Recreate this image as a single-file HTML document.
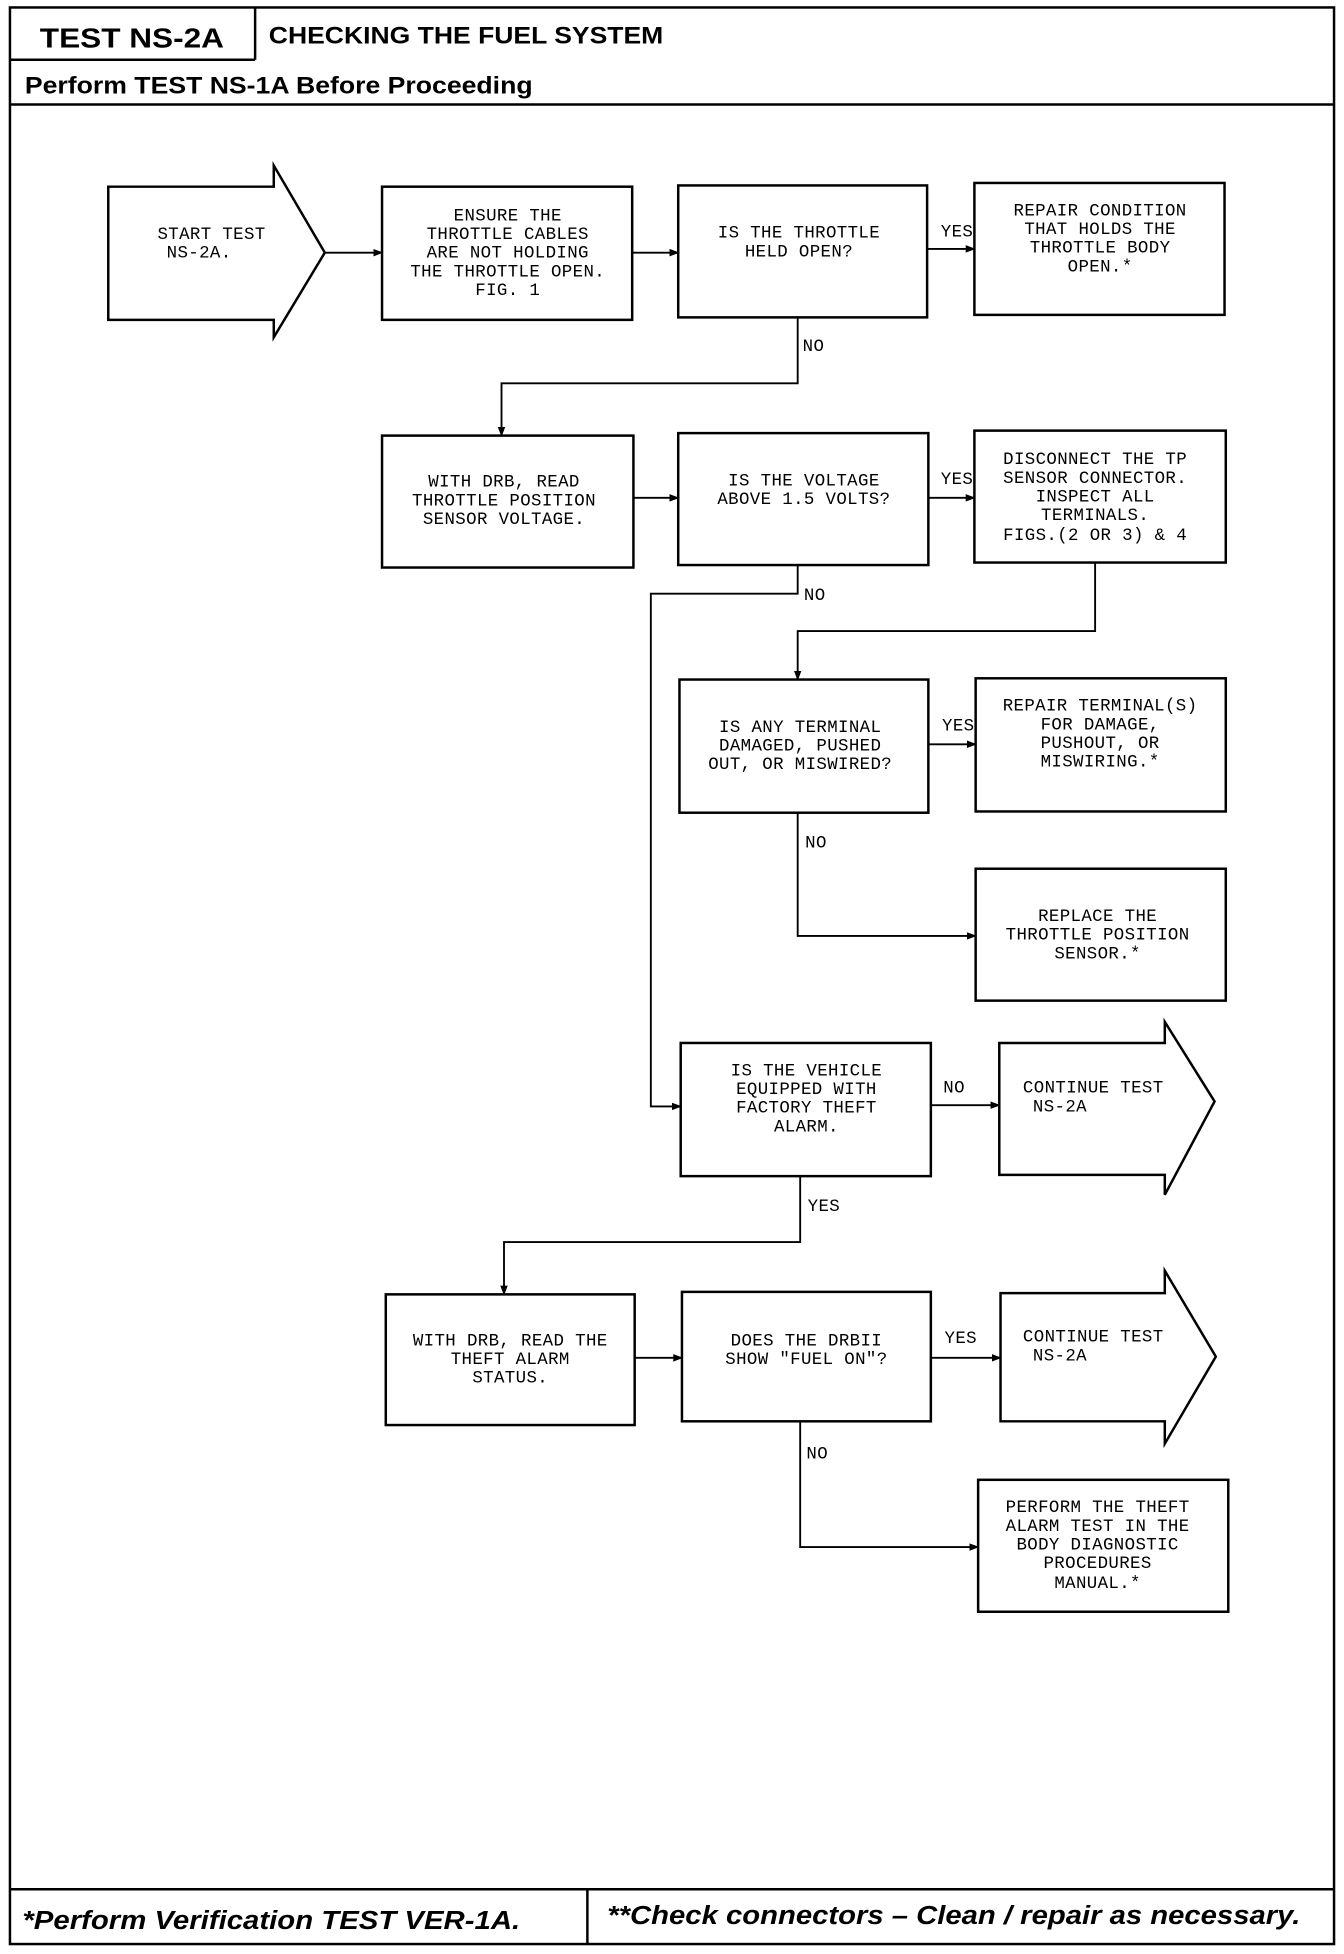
<!DOCTYPE html>
<html><head><meta charset="utf-8"><style>
html,body{margin:0;padding:0;background:#fff;}
svg{display:block;}
.t{font-family:"Liberation Mono",monospace;font-size:14px;fill:#000;text-anchor:middle;letter-spacing:0.3px;}
.l{font-family:"Liberation Mono",monospace;font-size:14px;fill:#000;letter-spacing:0.3px;}
.h{font-family:"Liberation Sans",sans-serif;font-weight:bold;fill:#000;}
</style></head><body>
<svg width="1344" height="1954" viewBox="0 0 1080 1570" preserveAspectRatio="none" xmlns="http://www.w3.org/2000/svg">
<defs><marker id="a" markerWidth="8" markerHeight="8" refX="7" refY="4" orient="auto" markerUnits="userSpaceOnUse"><path d="M0,1 L8,4 L0,7 Z" fill="#000"/></marker></defs>
<g fill="none" stroke="#000" stroke-width="2">
<rect x="8" y="6" width="1064" height="1556"/>
<line x1="8" y1="48" x2="205" y2="48"/>
<line x1="205" y1="6" x2="205" y2="48"/>
<line x1="8" y1="84" x2="1072" y2="84"/>
<line x1="8" y1="1518" x2="1072" y2="1518"/>
<line x1="472" y1="1518" x2="472" y2="1562"/>
<path d="M87,150 H220 V133 L261,203 L220,271 V257 H87 Z"/>
<rect x="307" y="150" width="201" height="107"/>
<rect x="545" y="149" width="200" height="106"/>
<rect x="783" y="147" width="201" height="106"/>
<rect x="307" y="350" width="202" height="106"/>
<rect x="545" y="348" width="201" height="106"/>
<rect x="783" y="346" width="202" height="106"/>
<rect x="546" y="546" width="200" height="107"/>
<rect x="784" y="545" width="201" height="107"/>
<rect x="784" y="698" width="201" height="106"/>
<rect x="547" y="838" width="201" height="107"/>
<path d="M803,838 H936 V821 L976,885 L936,960 V944 H803 Z"/>
<rect x="310" y="1040" width="200" height="105"/>
<rect x="548" y="1038" width="200" height="104"/>
<path d="M804,1039 H936 V1021 L977,1090 L936,1160 V1142 H804 Z"/>
<rect x="786" y="1189" width="201" height="106"/>
</g>
<g fill="none" stroke="#000" stroke-width="1.5" marker-end="url(#a)">
<line x1="261" y1="203" x2="307" y2="203"/>
<line x1="508" y1="203" x2="545" y2="203"/>
<line x1="745" y1="200" x2="783" y2="200"/>
<polyline points="641,255 641,308 403,308 403,350"/>
<line x1="509" y1="400" x2="545" y2="400"/>
<line x1="746" y1="400" x2="783" y2="400"/>
<polyline points="641,454 641,477 523,477 523,889 547,889"/>
<polyline points="880,452 880,507 641,507 641,546"/>
<line x1="746" y1="598" x2="784" y2="598"/>
<polyline points="641,653 641,752 784,752"/>
<line x1="748" y1="888" x2="803" y2="888"/>
<polyline points="643,945 643,998 405,998 405,1040"/>
<line x1="510" y1="1091" x2="548" y2="1091"/>
<line x1="748" y1="1091" x2="804" y2="1091"/>
<polyline points="643,1142 643,1243 786,1243"/>
</g>
<text class="h" x="32" y="38" font-size="22" textLength="148" lengthAdjust="spacingAndGlyphs">TEST NS-2A</text>
<text class="h" x="216" y="35" font-size="19" textLength="317" lengthAdjust="spacingAndGlyphs">CHECKING THE FUEL SYSTEM</text>
<text class="h" x="20" y="75" font-size="19" textLength="408" lengthAdjust="spacingAndGlyphs">Perform TEST NS-1A Before Proceeding</text>
<text class="h" x="18" y="1550" font-size="21" font-style="italic" textLength="400" lengthAdjust="spacingAndGlyphs">*Perform Verification TEST VER-1A.</text>
<text class="h" x="488" y="1546" font-size="21" font-style="italic" textLength="557" lengthAdjust="spacingAndGlyphs">**Check connectors – Clean / repair as necessary.</text>
<g class="t">
<text x="170" y="192">START TEST</text><text x="160" y="207">NS-2A.</text>
<text x="408" y="177">ENSURE THE</text><text x="408" y="192">THROTTLE CABLES</text><text x="408" y="207">ARE NOT HOLDING</text><text x="408" y="222">THE THROTTLE OPEN.</text><text x="408" y="237">FIG. 1</text>
<text x="642" y="191">IS THE THROTTLE</text><text x="642" y="206">HELD OPEN?</text>
<text x="884" y="173">REPAIR CONDITION</text><text x="884" y="188">THAT HOLDS THE</text><text x="884" y="203">THROTTLE BODY</text><text x="884" y="218">OPEN.*</text>
<text x="405" y="391">WITH DRB, READ</text><text x="405" y="406">THROTTLE POSITION</text><text x="405" y="421">SENSOR VOLTAGE.</text>
<text x="646" y="390">IS THE VOLTAGE</text><text x="646" y="405">ABOVE 1.5 VOLTS?</text>
<text x="880" y="373">DISCONNECT THE TP</text><text x="880" y="388">SENSOR CONNECTOR.</text><text x="880" y="403">INSPECT ALL</text><text x="880" y="418">TERMINALS.</text><text x="880" y="434">FIGS.(2 OR 3) &amp; 4</text>
<text x="643" y="588">IS ANY TERMINAL</text><text x="643" y="603">DAMAGED, PUSHED</text><text x="643" y="618">OUT, OR MISWIRED?</text>
<text x="884" y="571">REPAIR TERMINAL(S)</text><text x="884" y="586">FOR DAMAGE,</text><text x="884" y="601">PUSHOUT, OR</text><text x="884" y="616">MISWIRING.*</text>
<text x="882" y="740">REPLACE THE</text><text x="882" y="755">THROTTLE POSITION</text><text x="882" y="770">SENSOR.*</text>
<text x="648" y="864">IS THE VEHICLE</text><text x="648" y="879">EQUIPPED WITH</text><text x="648" y="894">FACTORY THEFT</text><text x="648" y="909">ALARM.</text>
<text x="410" y="1081">WITH DRB, READ THE</text><text x="410" y="1096">THEFT ALARM</text><text x="410" y="1111">STATUS.</text>
<text x="648" y="1081">DOES THE DRBII</text><text x="648" y="1096">SHOW "FUEL ON"?</text>
<text x="882" y="1215">PERFORM THE THEFT</text><text x="882" y="1230">ALARM TEST IN THE</text><text x="882" y="1245">BODY DIAGNOSTIC</text><text x="882" y="1260">PROCEDURES</text><text x="882" y="1276">MANUAL.*</text>
</g>
<g class="l">
<text x="822" y="878">CONTINUE TEST</text><text x="830" y="893">NS-2A</text>
<text x="822" y="1078">CONTINUE TEST</text><text x="830" y="1093">NS-2A</text>
<text x="756" y="190">YES</text><text x="645" y="282">NO</text>
<text x="756" y="389">YES</text><text x="646" y="482">NO</text>
<text x="757" y="587">YES</text><text x="647" y="681">NO</text>
<text x="758" y="878">NO</text><text x="649" y="973">YES</text>
<text x="759" y="1079">YES</text><text x="648" y="1172">NO</text>
</g>
</svg>
</body></html>
